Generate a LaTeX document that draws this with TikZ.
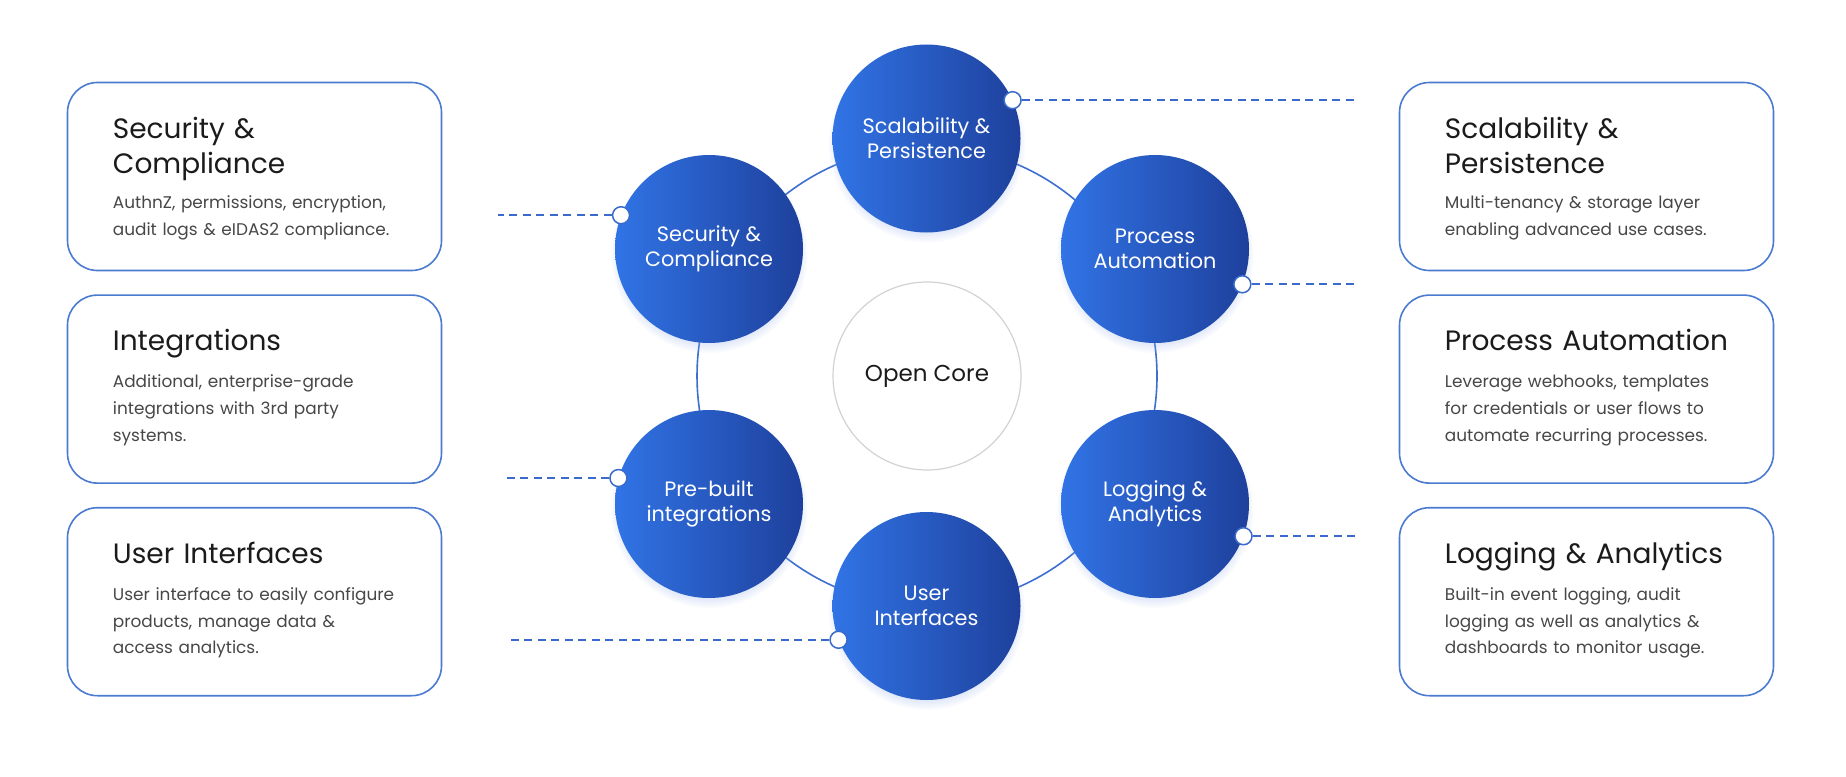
\documentclass[tikz,border=0pt]{standalone}
\usepackage{fontspec}
\setmainfont{Poppins}
\usetikzlibrary{calc}
\usetikzlibrary{positioning}
\usetikzlibrary{shadows}
\definecolor{cardblue}{HTML}{4A7BD0}
\definecolor{leadblue}{HTML}{3A6BCB}
\definecolor{ringblue}{HTML}{3D6FD0}
\definecolor{hubleft}{HTML}{3174E6}
\definecolor{hubright}{HTML}{1E409C}
\definecolor{hubshade}{HTML}{9DB6EC}
\definecolor{coregray}{HTML}{D2D2D2}
\definecolor{titlecol}{HTML}{1B1B1B}
\definecolor{bodycol}{HTML}{474747}

\begin{document}
\begin{tikzpicture}[x=1pt,y=-1pt,
		card/.style={rectangle,rounded corners=30pt,draw=cardblue,line width=1.6pt,fill=white,
			minimum width=374pt,minimum height=188pt},
		hub/.style={circle,minimum size=188pt,inner sep=0pt,left color=hubleft,right color=hubright,
			text=white,align=center,font=\fontsize{20.8}{25}\selectfont,
			circular drop shadow={shadow xshift=0pt,shadow yshift=-5pt,shadow scale=1.05,opacity=.45,fill=hubshade}},
		core/.style={circle,minimum size=188pt,draw=coregray,line width=1.2pt,fill=white,
			text=titlecol,font=\fontsize{23}{25}\selectfont},
		pindot/.style={circle,minimum size=17pt,inner sep=0pt,draw=leadblue,line width=1.5pt,fill=white},
		lead/.style={draw=leadblue,line width=2pt,dash pattern=on 8pt off 5.5pt},
		ring/.style={draw=ringblue,line width=1.6pt},
		title/.style={anchor=base west,inner sep=0pt,text width=320pt,align=left,
			font=\fontsize{28}{35}\selectfont,text=titlecol},
		body/.style={anchor=base west,inner sep=0pt,text width=322pt,align=left,
			font=\fontsize{16.9}{26.7}\selectfont,text=bodycol}]
		\useasboundingbox[fill=white] (0,0) rectangle (1846,776);

		% left column
		\node[card] (secC) at (254.5,176.5) {};
		\node[card, below=23pt of secC] (intC) {};
		\node[card, below=23pt of intC] (uiC) {};
		\node[title] (secT) at ($(secC.north west)+(46,56.5)$) {Security \&\\Compliance};
		\node[body] at ($(secC.north west)+(46,127)$) {AuthnZ, permissions, encryption,\\audit logs \& eIDAS2 compliance.};
		\node[title] (intT) at ($(intC.north west)+(46,56.5)$) {Integrations};
		\node[body] at ($(intC.north west)+(46,93.5)$) {Additional, enterprise-grade\\integrations with 3rd party\\systems.};
		\node[title] (uiT) at ($(uiC.north west)+(46,56.5)$) {User Interfaces};
		\node[body] at ($(uiC.north west)+(46,93.5)$) {User interface to easily configure\\products, manage data \&\\access analytics.};

		% right column
		\node[card] (scalC) at (1586.5,176.5) {};
		\node[card, below=23pt of scalC] (procC) {};
		\node[card, below=23pt of procC] (logC) {};
		\node[title] (scalT) at ($(scalC.north west)+(46,56.5)$) {Scalability \&\\Persistence};
		\node[body] at ($(scalC.north west)+(46,127)$) {Multi-tenancy \& storage layer\\enabling advanced use cases.};
		\node[title] (procT) at ($(procC.north west)+(46,56.5)$) {Process Automation};
		\node[body] at ($(procC.north west)+(46,93.5)$) {Leverage webhooks, templates\\for credentials or user flows to\\automate recurring processes.};
		\node[title] (logT) at ($(logC.north west)+(46,56.5)$) {Logging \& Analytics};
		\node[body] at ($(logC.north west)+(46,93.5)$) {Built-in event logging, audit\\logging as well as analytics \&\\dashboards to monitor usage.};

		% the wheel
		\node[core] (core) at (927,376) {Open Core};
		\draw[ring] (core.center) circle (230pt);
		\node[hub] (scal) at (926.5,138.5) {Scalability \&\\Persistence};
		\node[hub] (sec) at (709,249) {Security \&\\Compliance};
		\node[hub] (proc) at (1155,249) {Process\\Automation};
		\node[hub] (pre) at (709,504) {Pre-built\\integrations};
		\node[hub] (log) at (1155,504) {Logging \&\\Analytics};
		\node[hub] (ui) at (926.5,606) {User\\Interfaces};

		% pins and leaders
		\coordinate (leftA) at (498,0);
		\coordinate (leftB) at (504,0);
		\coordinate (leftC) at (507,0);
		\coordinate (rightX) at (1358,0);
		\node[pindot] (scalP) at (scal.24) {};
		\node[pindot] (secP) at (sec.159) {};
		\node[pindot] (procP) at (proc.-22) {};
		\node[pindot] (preP) at (pre.164) {};
		\node[pindot] (logP) at (log.-20) {};
		\node[pindot] (uiP) at (ui.201) {};
		\draw[lead] (scalP.east) -- (scalP.east -| rightX);
		\draw[lead] (procP.east) -- (procP.east -| rightX);
		\draw[lead] (logP.east) -- (logP.east -| rightX);
		\draw[lead] (secP.west) -- (secP.west -| leftA);
		\draw[lead] (preP.west) -- (preP.west -| leftB);
		\draw[lead] (uiP.west) -- (uiP.west -| leftC);
\end{tikzpicture}
\end{document}
